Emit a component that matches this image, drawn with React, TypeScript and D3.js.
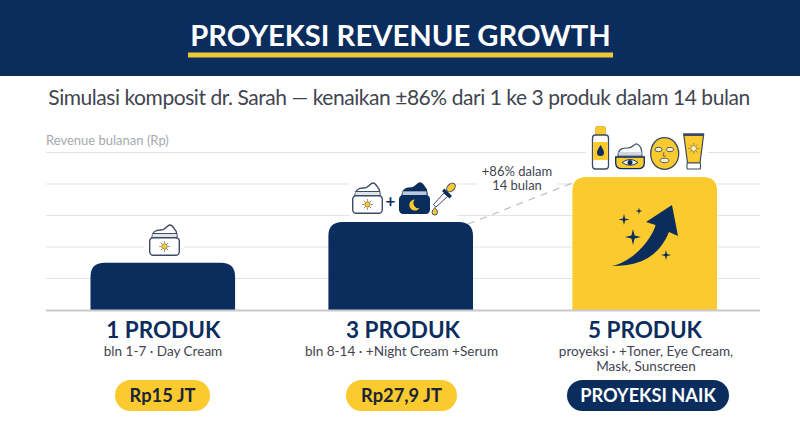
import React from "react";
import * as d3 from "d3";

const categories = ["1 PRODUK", "3 PRODUK", "5 PRODUK"];
const revenueJt = [15, 27.9, 42.2];
const subLabels = [["bln 1-7 · Day Cream"], ["bln 8-14 · +Night Cream +Serum"], ["proyeksi · +Toner, Eye Cream,", "Mask, Sunscreen"]];
const pillLabels = ["Rp15 JT", "Rp27,9 JT", "PROYEKSI NAIK"];
const gridTicks = [10, 20, 30, 40, 50];

const NAVY = "#0b2d5e";
const YELLOW = "#fbca2e";
const LINE = "#3c4a63";
const FONT = "Lato, sans-serif";

const BAR_W = 144.6;
const barCenter = d3.scaleOrdinal<string, number>().domain(categories).range([162.8, 400.7, 644.7]);
const labelCenter = d3.scaleOrdinal<string, number>().domain(categories).range([163.3, 403, 645]);
const subCenter = d3.scaleOrdinal<string, number>().domain(categories).range([163, 401.5, 646]);
const pillCenter = d3.scaleOrdinal<string, number>().domain(categories).range([162.5, 401.5, 648]);
const pillWidth = d3.scaleOrdinal<string, number>().domain(categories).range([95, 111, 162]);
const y = d3.scaleLinear().domain([0, 50]).range([310, 152.5]);

function topRounded(x0: number, w: number, top: number, bottom: number, r: number) {
  const p = d3.path();
  p.moveTo(x0, bottom);
  p.lineTo(x0, top + r);
  p.quadraticCurveTo(x0, top, x0 + r, top);
  p.lineTo(x0 + w - r, top);
  p.quadraticCurveTo(x0 + w, top, x0 + w, top + r);
  p.lineTo(x0 + w, bottom);
  p.closePath();
  return p.toString();
}

function star(cx: number, cy: number, r: number, fill = NAVY) {
  const k = r * 0.2;
  const d = `M${cx} ${cy - r}L${cx + k} ${cy - k}L${cx + r} ${cy}L${cx + k} ${cy + k}L${cx} ${cy + r}L${cx - k} ${cy + k}L${cx - r} ${cy}L${cx - k} ${cy - k}Z`;
  return <path d={d} fill={fill} />;
}

function Sun({ cx, cy, r, color, core }: { cx: number; cy: number; r: number; color: string; core: string }) {
  return (
    <g>
      {d3.range(8).map((i) => {
        const a = (i * Math.PI) / 4;
        return <line key={i} x1={cx + Math.cos(a) * r * 1.35} y1={cy + Math.sin(a) * r * 1.35} x2={cx + Math.cos(a) * r * 1.95} y2={cy + Math.sin(a) * r * 1.95} stroke={color} strokeWidth={0.9} />;
      })}
      <circle cx={cx} cy={cy} r={r} fill={core} stroke={color} strokeWidth={0.8} />
    </g>
  );
}

// Jar drawn in a 31x31 box
function Jar({ tx, ty, night }: { tx: number; ty: number; night?: boolean }) {
  const fill = night ? NAVY : "#fff";
  const stroke = night ? NAVY : LINE;
  return (
    <g transform={`translate(${tx},${ty})`}>
      <path d="M3 13 C3 6 7 5 12 5 C17 5 18 0 21 0 C24 0 25 4 27 6 C28 8 28 10 28 13 Z" fill={fill} stroke={stroke} strokeWidth={1.4} />
      <line x1={3.5} y1={8.5} x2={27.5} y2={8.5} stroke={night ? "#fff" : LINE} strokeWidth={night ? 0.5 : 1} />
      <rect x={3.5} y={9} width={24} height={3.6} fill={night ? "#b9c6dc" : "#dfe3ea"} />
      <rect x={0.7} y={12.7} width={29.6} height={17.6} rx={3.5} fill={fill} stroke={stroke} strokeWidth={1.4} />
      {night ? (
        <path d="M16 16.5 A5.5 5.5 0 1 0 20.5 25 A5 5 0 0 1 16 16.5Z" fill={YELLOW} />
      ) : (
        <Sun cx={15.5} cy={21.5} r={2.7} color="#7a7354" core={YELLOW} />
      )}
    </g>
  );
}

function Dropper() {
  return (
    <g>
      <path d="M433.5 204.5 L444 193 L447.5 196.5 L436 207 Z" fill="#fff" stroke={LINE} strokeWidth={1} />
      <path d="M442 191 L449.5 198.5 L452 196 L444.5 188.5 Z" fill={NAVY} />
      <ellipse cx={451} cy={187.5} rx={3.5} ry={5} transform="rotate(45 451 187.5)" fill={YELLOW} stroke={LINE} strokeWidth={1} />
      <path d="M434.8 207.5 C435.5 209 437.5 210.5 437.5 212.3 A2.7 2.7 0 0 1 432.1 212.3 C432.1 210.5 434 209 434.8 207.5Z" fill={YELLOW} stroke={LINE} strokeWidth={1} />
    </g>
  );
}

function ProductIcons() {
  return (
    <g>
      {/* bottle */}
      <rect x={595.5} y={126.5} width={10} height={9} rx={1.5} fill={YELLOW} stroke="#d9b23a" strokeWidth={0.8} />
      <rect x={592.5} y={135} width={16} height={34} rx={3} fill="#fff" stroke={LINE} strokeWidth={1.3} />
      <rect x={593.2} y={142} width={14.6} height={18} fill={YELLOW} />
      <path d="M600.5 145 C602 148 604 150 604 152.5 A3.5 3.5 0 0 1 597 152.5 C597 150 599 148 600.5 145Z" fill={NAVY} />
      {/* eye cream jar */}
      <path d="M618 156 C618 149 622 148 628 148 C633 148 634 143.5 637 144 C640 145 642 148 642 156 Z" fill="#fff" stroke={LINE} strokeWidth={1.2} />
      <rect x={618.5} y={152} width={23} height={3} fill="#cfd6e2" />
      <path d="M615.7 157 L644.3 157 L644.3 163 Q644.3 168.7 638 168.7 L622 168.7 Q615.7 168.7 615.7 163 Z" fill={YELLOW} stroke={NAVY} strokeWidth={1.3} />
      <path d="M622 162.5 Q630 156.5 638 162.5 Q630 168 622 162.5Z" fill="#fff" stroke={NAVY} strokeWidth={0.9} />
      <circle cx={630} cy={162.5} r={2.5} fill={NAVY} />
      {/* mask */}
      <path d="M664.5 137.7 C673 137.7 678.7 145 678.7 154 C678.7 163 672 169.3 664.5 169.3 C657 169.3 650.7 163 650.7 154 C650.7 145 656 137.7 664.5 137.7Z" fill={YELLOW} stroke={LINE} strokeWidth={1.3} />
      <ellipse cx={658.5} cy={149.5} rx={3.6} ry={2.2} fill="#fdf3d0" stroke={LINE} strokeWidth={0.9} />
      <ellipse cx={670} cy={149.5} rx={3.6} ry={2.2} fill="#fdf3d0" stroke={LINE} strokeWidth={0.9} />
      <path d="M664 152 L663 156 L666 156" fill="none" stroke={LINE} strokeWidth={0.7} />
      <ellipse cx={664.5} cy={160.5} rx={4.4} ry={2.2} fill="#fdf3d0" stroke={LINE} strokeWidth={0.9} />
      {/* tube */}
      <path d="M683.7 134 L703.7 134 L700 163 L687.5 163 Z" fill={YELLOW} stroke={LINE} strokeWidth={1.2} />
      <rect x={683.5} y={133.5} width={20.5} height={2.5} fill={LINE} />
      <rect x={687} y={163} width={13.5} height={6} rx={1} fill="#fff" stroke={LINE} strokeWidth={1.1} />
      <Sun cx={693.7} cy={148.5} r={2.8} color="#8a7a40" core="#fdf3d0" />
    </g>
  );
}

function GrowthArrow() {
  return (
    <g>
      <path
        d="M612 266 C627 263 642 250 650 237 C653 232 655 228 655.5 225 L646 222 L672 205 L678 236 L669 232 C664 245 654 256 642 261 C632 265 622 266 612 266Z"
        fill={NAVY}
      />
      {star(633, 237, 8)}
      {star(624, 219.5, 5.5)}
      {star(639, 211, 3.5)}
      {star(666, 255, 5)}
    </g>
  );
}

export default function App() {
  return (
    <svg
      width={800}
      height={437}
      viewBox="0 0 800 437"
      style={{ position: "absolute", left: 0, top: 0, background: "#fff", fontFamily: FONT }}
    >
      <rect x={0} y={0} width={800} height={76} fill={NAVY} />
      <text x={400.5} y={46} textAnchor="middle" fontSize={29.2} fontWeight={700} fill="#fff">PROYEKSI REVENUE GROWTH</text>
      <rect x={188} y={52.5} width={425} height={5} fill="#efc83a" />
      <text x={399} y={105} textAnchor="middle" fontSize={21} letterSpacing={-0.45} fill="#3f4550">Simulasi komposit dr. Sarah — kenaikan ±86% dari 1 ke 3 produk dalam 14 bulan</text>
      <text x={46} y={145} fontSize={13} fill="#a6a9ae">Revenue bulanan (Rp)</text>

      {gridTicks.map((t) => (
        <line key={t} x1={46} x2={760} y1={y(t)} y2={y(t)} stroke="#e4e4e6" strokeWidth={1.2} />
      ))}

      {/* white backings that interrupt the grid behind icons and note */}
      <rect x={144} y={222} width={40} height={38} fill="#fff" />
      <rect x={350} y={178} width={107} height={42} fill="#fff" />
      <rect x={478} y={162} width={79} height={32} fill="#fff" />
      <rect x={586} y={122} width={122} height={52} fill="#fff" />

      <line x1={468} y1={224} x2={580} y2={180} stroke="#bdbdbd" strokeWidth={1.2} strokeDasharray="7 6" />

      {categories.map((c, i) => (
        <path
          key={c}
          d={topRounded(barCenter(c) - BAR_W / 2, BAR_W, y(revenueJt[i]), y(0), 14)}
          fill={i === 2 ? YELLOW : NAVY}
        />
      ))}
      <line x1={46} x2={760} y1={310.5} y2={310.5} stroke="#c9c9cc" strokeWidth={2} />

      <Jar tx={149} ty={225} />
      <Jar tx={352} ty={183} />
      <text x={390.5} y={207} textAnchor="middle" fontSize={17} fontWeight={700} fill={NAVY}>+</text>
      <Jar tx={399} ty={183} night />
      <Dropper />
      <ProductIcons />
      <GrowthArrow />

      <text textAnchor="middle" fontSize={13} fill="#3f4550">
        <tspan x={517} y={175.7}>+86% dalam</tspan>
        <tspan x={517} y={190}>14 bulan</tspan>
      </text>

      {categories.map((c, i) => {
        const w = pillWidth(c);
        const dark = i === 2;
        return (
          <g key={c}>
            <text x={labelCenter(c)} y={338} textAnchor="middle" fontSize={22.5} fontWeight={700} fill={NAVY}>{c}</text>
            <text textAnchor="middle" fontSize={13.55} fill="#3f4550">
              {subLabels[i].map((s, j) => (
                <tspan key={s} x={subCenter(c)} y={356 + j * 15}>{s}</tspan>
              ))}
            </text>
            <rect x={pillCenter(c) - w / 2} y={380} width={w} height={31} rx={15.5} fill={dark ? NAVY : YELLOW} />
            <text x={pillCenter(c)} y={402} textAnchor="middle" fontSize={dark ? 18.2 : 18.3} fontWeight={700} fill={dark ? "#fff" : "#1a2438"}>{pillLabels[i]}</text>
          </g>
        );
      })}
    </svg>
  );
}
